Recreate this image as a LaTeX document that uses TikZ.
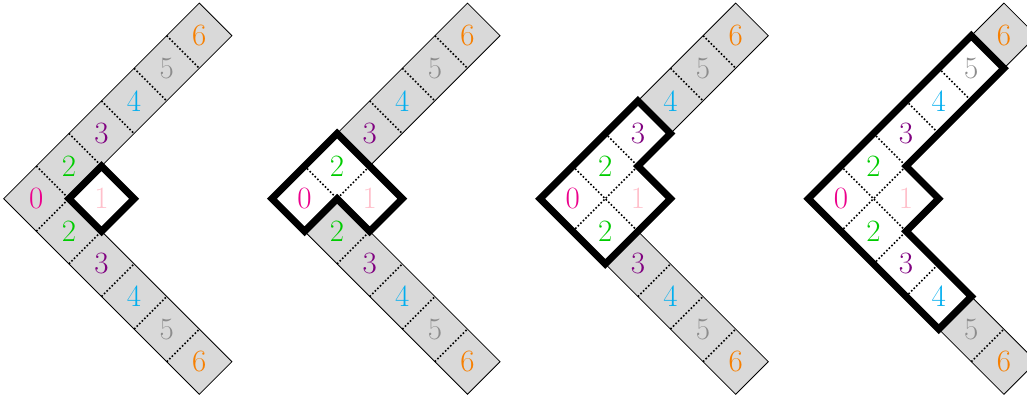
\documentclass[tikz,border=0pt]{standalone}
\usepackage{fontspec}
\definecolor{c0}{RGB}{236,0,140}
\definecolor{c1}{RGB}{255,192,203}
\definecolor{c2}{RGB}{0,204,0}
\definecolor{c3}{RGB}{128,0,128}
\definecolor{c4}{RGB}{0,174,239}
\definecolor{c5}{RGB}{140,140,140}
\definecolor{c6}{RGB}{247,127,0}
\definecolor{cellgray}{RGB}{217,217,217}
\tikzset{
  dotline/.style={line width=1.6pt, dash pattern=on 1.6pt off 2pt},
  rim/.style={line width=0.8pt},
  hold/.style={line width=7pt, line join=miter},
  lab/.style={font=\fontsize{31}{36}\selectfont, inner sep=0pt},
}
\newcommand\drawpanel[3]{%
  \begin{scope}[cm={32.6,32.6,32.6,-32.6,(#1,195.3)}]
    \fill[cellgray] (0,0) -- (6,0) -- (6,1) -- (2,1) -- (2,2) -- (1,2) -- (1,6) -- (0,6) -- cycle;
    \fill[white] #3;
    \foreach \i in {2,...,5} \draw[dotline] (\i,0) -- (\i,1);
    \foreach \j in {2,...,5} \draw[dotline] (0,\j) -- (1,\j);
    \draw[dotline] (1,0) -- (1,2);
    \draw[dotline] (0,1) -- (2,1);
    \draw[rim] (0,0) -- (6,0) -- (6,1) -- (2,1) -- (2,2) -- (1,2) -- (1,6) -- (0,6) -- cycle;
    \draw[hold] #3;
    \foreach \u/\v/\n in {0/0/0,1/1/1,1/0/2,2/0/3,3/0/4,4/0/5,5/0/6,0/1/2,0/2/3,0/3/4,0/4/5,0/5/6}
      \node[lab, text=c\n] (#2-\u-\v) at (\u+0.5,\v+0.5) {\n};
  \end{scope}}
\begin{document}
\begin{tikzpicture}[x=1pt,y=1pt]
\useasboundingbox (0,0) rectangle (1027,394);
\clip (0,0) rectangle (1027,394);
\drawpanel{3.7}{pa}{(1,1) -- (2,1) -- (2,2) -- (1,2) -- cycle}
\drawpanel{271.9}{pb}{(0,0) -- (2,0) -- (2,2) -- (1,2) -- (1,1) -- (0,1) -- cycle}
\drawpanel{540.1}{pc}{(0,0) -- (3,0) -- (3,1) -- (2,1) -- (2,2) -- (0,2) -- cycle}
\drawpanel{808.3}{pd}{(0,0) -- (5,0) -- (5,1) -- (2,1) -- (2,2) -- (1,2) -- (1,4) -- (0,4) -- cycle}
\end{tikzpicture}
\end{document}
